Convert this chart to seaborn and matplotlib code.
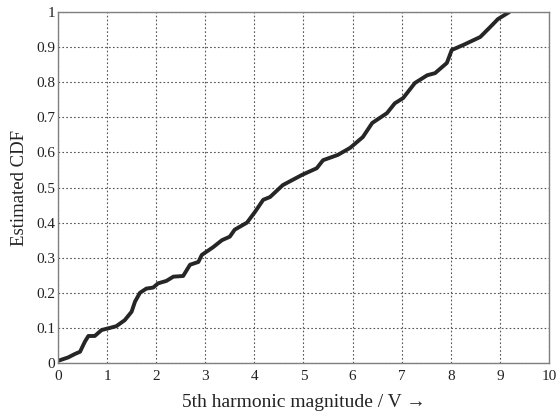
import numpy as np
import pandas as pd
import matplotlib
matplotlib.use('Agg')
import matplotlib.pyplot as plt
import seaborn as sns

# points
magnitude = [0.0, 0.21, 0.35, 0.45, 0.55, 0.62, 0.75, 0.89, 1.06, 1.19, 1.36, 1.5, 1.57,
             1.67, 1.8, 1.94, 2.04, 2.21, 2.35, 2.55, 2.69, 2.86, 2.93, 3.16, 3.34, 3.5,
             3.6, 3.85, 4.01, 4.18, 4.32, 4.58, 4.97, 5.27, 5.4, 5.7, 5.95, 6.21, 6.4,
             6.7, 6.86, 7.03, 7.27, 7.52, 7.68, 7.92, 8.02, 8.25, 8.6, 8.8, 8.96, 9.19]
cdf = [0.006, 0.016, 0.026, 0.032, 0.061, 0.077, 0.077, 0.094, 0.1, 0.105, 0.122, 0.146, 0.175,
       0.2, 0.212, 0.215, 0.227, 0.234, 0.246, 0.248, 0.28, 0.288, 0.308, 0.33, 0.35, 0.36,
       0.38, 0.4, 0.43, 0.465, 0.473, 0.507, 0.536, 0.555, 0.578, 0.593, 0.613, 0.644, 0.684,
       0.712, 0.74, 0.755, 0.798, 0.82, 0.826, 0.855, 0.892, 0.906, 0.929, 0.957, 0.98, 1.0]

xticks = list(range(0, 11))
yticks = [0, 0.1, 0.2, 0.3, 0.4, 0.5, 0.6, 0.7, 0.8, 0.9, 1]
yticklabels = ['0', '0.1', '0.2', '0.3', '0.4', '0.5', '0.6', '0.7', '0.8', '0.9', '1']

df = pd.DataFrame({'x': magnitude, 'F': cdf})

sns.set_style('white')
plt.rcParams['font.family'] = ['Liberation Serif', 'DejaVu Serif']

fig = plt.figure(figsize=(5.57, 4.17), dpi=100)
ax = fig.add_axes([0.104, 0.1295, 0.8816, 0.8415])

sns.lineplot(data=df, x='x', y='F', ax=ax, color='#262626', linewidth=2.8)

ax.set_xlim(0, 10)
ax.set_ylim(0, 1)
ax.set_xticks(xticks)
ax.set_xticklabels([str(t) for t in xticks])
ax.set_yticks(yticks)
ax.set_yticklabels(yticklabels)
ax.grid(True, linestyle=(0, (1.5, 2)), color='#555555', linewidth=0.8)
ax.tick_params(direction='in', length=4, color='#777777', labelsize=11, colors='#222222')
ax.tick_params(axis='x', pad=5)
ax.tick_params(axis='y', pad=2)
for s in ax.spines.values():
    s.set_color('#808080')
    s.set_linewidth(1.0)

ax.set_xlabel('5th harmonic magnitude / V \u2192', fontsize=14, color='#222222', labelpad=8)
ax.set_ylabel('Estimated CDF', fontsize=13.5, color='#222222', labelpad=6)

fig.savefig('out.png', dpi=100)
